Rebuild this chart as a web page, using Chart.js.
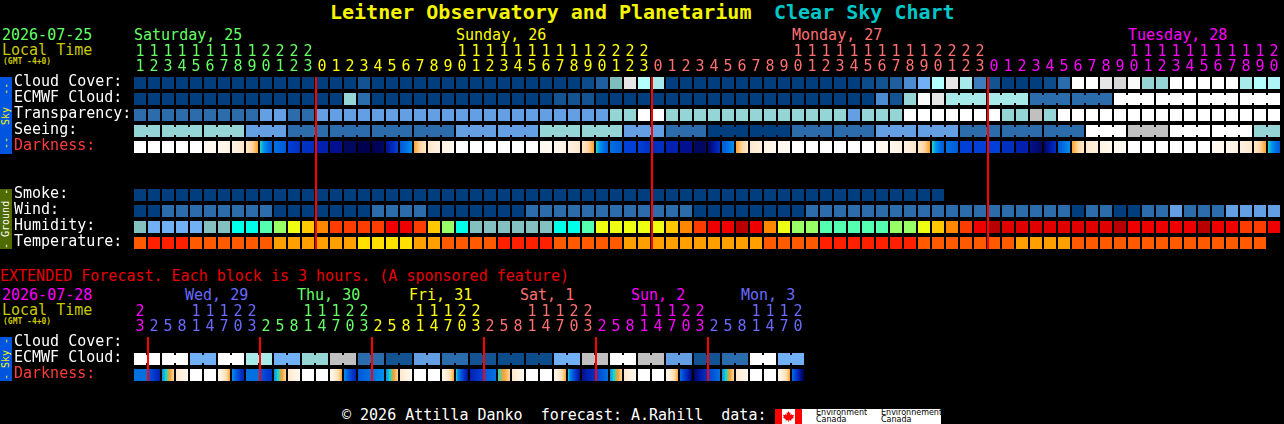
<!DOCTYPE html>
<html>
<head>
<meta charset="utf-8">
<title>Leitner Observatory and Planetarium Clear Sky Chart</title>
<script src="https://cdn.jsdelivr.net/npm/chart.js@4"></script>
<style>
html, body { margin: 0; background: #000; width: 1284px; height: 424px; overflow: hidden; }
canvas { position: absolute; left: 0; }
.t { position: absolute; font: 15px/15px 'DejaVu Sans Mono', monospace; white-space: pre; }
.title { font-weight: bold; font-size: 20px; line-height: 24px; top: 0; }
.gmt { font-size: 8px; line-height: 8px; font-weight: bold; color: #c8c800; left: 3px; }
.band { position: absolute; left: 0; width: 12px; writing-mode: vertical-rl; transform: rotate(180deg);
  font: 10px/12px 'DejaVu Sans Mono', monospace; text-align: center; white-space: pre; }
#logo { position: absolute; left: 775px; top: 409px; width: 166px; height: 15px; background: #fff; overflow: hidden; }
#logo .bar { position: absolute; top: 0; width: 7px; height: 15px; background: #f00; }
#logo svg { position: absolute; left: 8px; top: 2px; }
#logo span { position: absolute; font: 8px/8px 'DejaVu Sans', sans-serif; color: #000; white-space: nowrap; }
</style>
</head>
<body>
<div class="t title" style="left:330px;color:#f5f500">Leitner Observatory and Planetarium</div>
<div class="t title" style="left:774px;color:#00c8c8">Clear Sky Chart</div>

<div class="t" style="left:2px;top:28px;color:#66ff66">2026-07-25</div>
<div class="t" style="left:2px;top:43px;color:#c8c800">Local Time</div>
<div class="t gmt" style="top:58px">(GMT -4+0)</div>
<div class="t" style="left:134px;top:28px;color:#66ff66">Saturday, 25</div>
<div class="t" style="left:456px;top:28px;color:#ffff00">Sunday, 26</div>
<div class="t" style="left:792px;top:28px;color:#ff7070">Monday, 27</div>
<div class="t" style="left:1128px;top:28px;color:#ff00ff">Tuesday, 28</div>

<div class="band" style="top:77px;height:77px;background:#0055e0;color:#f5f500">--  Sky  --</div>
<div class="band" style="top:189px;height:60px;background:#4f6b00;color:#fff">- Ground -</div>
<div class="band" style="top:337px;height:44px;background:#0055e0;color:#f5f500">- Sky -</div>

<canvas id="mainChart" width="1284" height="256" style="top:0"></canvas>

<div class="t" style="left:0;top:269px;color:#e80000">EXTENDED Forecast. Each block is 3 hours. (A sponsored feature)</div>
<div class="t" style="left:2px;top:288px;color:#ff00ff">2026-07-28</div>
<div class="t" style="left:2px;top:303px;color:#c8c800">Local Time</div>
<div class="t gmt" style="top:318px">(GMT -4+0)</div>
<div class="t" style="left:185px;top:288px;color:#6a6aff">Wed, 29</div>
<div class="t" style="left:297px;top:288px;color:#66ff66">Thu, 30</div>
<div class="t" style="left:409px;top:288px;color:#ffff00">Fri, 31</div>
<div class="t" style="left:520px;top:288px;color:#ff7070">Sat, 1</div>
<div class="t" style="left:631px;top:288px;color:#ff00ff">Sun, 2</div>
<div class="t" style="left:741px;top:288px;color:#6a6aff">Mon, 3</div>

<canvas id="extChart" width="1284" height="130" style="top:256px"></canvas>

<div class="t" style="left:342px;top:408px;color:#fff">© 2026 Attilla Danko  forecast: A.Rahill  data:</div>
<div id="logo">
  <div class="bar" style="left:0"></div>
  <div class="bar" style="left:20px"></div>
  <svg width="11" height="11" viewBox="0 0 11 11"><path fill="#f00" d="M5.5 0 L6.6 2 L7.6 1.6 L7.2 4.2 L8.6 3 L9 4 L11 3.8 L10.2 6 L11 6.6 L8.2 8.6 L8.6 9.6 L5.8 9.2 L5.8 11 L5.2 11 L5.2 9.2 L2.4 9.6 L2.8 8.6 L0 6.6 L0.8 6 L0 3.8 L2 4 L2.4 3 L3.8 4.2 L3.4 1.6 L4.4 2 Z"/></svg>
  <span style="left:41px;top:0">Environment</span>
  <span style="left:41px;top:7px">Canada</span>
  <span style="left:106px;top:0">Environnement</span>
  <span style="left:106px;top:7px">Canada</span>
</div>

<script>
const hours = [11,12,13,14,15,16,17,18,19,20,21,22,23,
  0,1,2,3,4,5,6,7,8,9,10,11,12,13,14,15,16,17,18,19,20,21,22,23,
  0,1,2,3,4,5,6,7,8,9,10,11,12,13,14,15,16,17,18,19,20,21,22,23,
  0,1,2,3,4,5,6,7,8,9,10,11,12,13,14,15,16,17,18,19,20];
const hourDays = [0,0,0,0,0,0,0,0,0,0,0,0,0,
  1,1,1,1,1,1,1,1,1,1,1,1,1,1,1,1,1,1,1,1,1,1,1,1,
  2,2,2,2,2,2,2,2,2,2,2,2,2,2,2,2,2,2,2,2,2,2,2,2,
  3,3,3,3,3,3,3,3,3,3,3,3,3,3,3,3,3,3,3,3,3];
const midnights = [13, 37, 61];

const rowNames = ['Cloud Cover:', 'ECMWF Cloud:', 'Transparency:', 'Seeing:', 'Darkness:', '', ' ',
  'Smoke:', 'Wind:', 'Humidity:', 'Temperature:'];

// percent cloud
const cloudCover = [0,0,0,0,0,0,0,0,0,0,0,0,0,0,0,0,10,0,0,0,0,0,0,0,0,0,0,0,0,0,0,0,5,20,65,90,75,70,
  0,0,0,0,0,0,0,0,0,0,0,0,0,0,5,10,20,40,50,75,90,70,35,10,0,0,0,5,30,100,100,90,88,95,60,60,
  100,100,100,100,100,70,75,72];
const ecmwfCloud = [0,0,0,0,0,0,0,0,0,0,0,0,0,0,0,60,30,0,0,0,0,0,0,0,0,0,0,0,0,0,10,10,10,
  0,0,0,0,0,0,0,0,0,0,0,0,0,0,0,0,0,0,0,0,40,10,60,95,90,70,70,70,70,70,70,30,30,30,30,30,30,
  100,100,100,100,100,100,100,100,100,100,100,100];
// 0 best ... 4 poor, 5 too cloudy to forecast
const transparency = [1,1,1,1,1,1,1,1,1,2,2,1,1,2,2,2,2,2,2,2,2,2,2,2,2,2,2,2,2,2,2,2,2,2,3,3,4,4,
  3,3,3,3,3,3,3,3,3,3,3,3,3,2,3,3,3,4,4,4,4,4,4,4,3,3,5,3,
  4,4,4,4,4,4,4,4,4,4,4,4,4,4,4,4];
const seeing = [3,3,3,3,3,3,3,3,2,2,2,1,1,1,1,1,1,1,1,1,1,1,1,2,2,2,2,2,2,3,3,3,3,3,3,2,2,2,1,1,1,
  0,0,0,0,0,0,1,1,1,1,1,1,2,2,2,2,2,2,1,1,1,1,1,1,1,1,1,4,4,4,5,5,5,4,4,4,4,4,4,3,3];
// twilight level at the left and right of each block, 0 daylight ... 15 dark sky
const darknessFrom = [0,0,0,0,0,1,1,2,3,6,8,10,11,12,13,14,15,15,13,9,5,3,2,
  0,0,0,0,0,0,1,1,2,3,6,8,10,10,11,12,13,14,14,9,5,3,2,1,
  0,0,0,0,0,0,1,1,2,3,6,8,10,10,10,11,12,13,14,9,5,3,2,1,
  0,0,0,0,0,0,1,1,2,3,6];
const darknessTo = [0,0,0,0,0,1,2,3,5,9,9,11,11,12,13,14,15,14,10,7,3,2,1,
  0,0,0,0,0,0,1,2,3,5,9,9,10,11,11,12,13,14,11,7,3,2,1,1,
  0,0,0,0,0,0,1,2,3,5,9,9,10,10,10,11,12,14,11,7,3,2,1,1,
  0,0,0,0,0,0,1,2,3,5,9];
const smoke = [0,0,0,0,0,0,0,0,0,0,0,0,0,0,0,0,0,0,0,0,0,0,0,0,0,0,0,0,0,
  0,0,0,0,0,0,0,0,0,0,0,0,0,0,0,0,0,0,0,0,0,0,0,0,0,0,0,0,0];
// 0 calm, 1 light, 2 moderate
const wind = [0,0,1,1,1,1,1,1,1,1,0,0,0,0,0,0,0,1,1,1,1,0,0,0,0,0,0,0,1,1,1,1,1,1,1,1,1,1,1,1,
  0,0,0,0,0,0,0,0,1,1,1,1,1,1,1,1,1,1,1,1,1,1,1,1,1,1,1,0,1,1,0,0,1,1,2,1,1,1,2,2,2,2];
const humidity = [90,95,95,95,95,90,90,85,85,80,75,70,65,60,55,55,55,55,50,50,55,65,75,85,
  90,90,90,90,90,90,85,85,80,70,70,70,70,70,65,60,55,50,50,45,50,60,70,75,75,80,80,80,
  80,80,75,75,70,65,60,55,50,45,47,47,47,47,47,47,47,47,45,50,50,50,50,50,45,50,50,55,55,50];
const temperature = [24,27,27,27,24,24,24,24,24,24,21,21,21,21,21,21,19,19,19,19,21,21,24,24,24,24,
  27,27,27,27,24,24,24,24,24,21,21,21,21,21,21,21,21,21,21,24,24,24,24,27,27,27,27,27,27,27,
  24,24,24,24,24,24,24,21,21,21,21,24,24,24,24,24,24,24,24,24,24,24,24,24,24];

const extHours = [23,2,5,8,11,14,17,20,23,2,5,8,11,14,17,20,23,2,5,8,11,14,17,20,23,
  2,5,8,11,14,17,20,23,2,5,8,11,14,17,20,23,2,5,8,11,14,17,20];
const extDays = [0,1,1,1,1,1,1,1,1,2,2,2,2,2,2,2,2,3,3,3,3,3,3,3,3,
  4,4,4,4,4,4,4,4,5,5,5,5,5,5,5,5,6,6,6,6,6,6,6];
const extMidnights = [1, 9, 17, 25, 33, 41];
const extRowNames = ['Cloud Cover:', 'ECMWF Cloud:', 'Darkness:'];
const extEcmwf = [100,100,100,100,50,50,100,100,70,70,50,50,60,60,85,85,30,30,10,10,45,45,30,30,
  10,10,5,5,5,5,50,50,85,85,100,100,85,85,45,45,10,10,30,30,100,100,50,50];
const extDarkFrom = [8,9,7,3,0,0,1,7, 8,9,7,3,0,0,1,7, 9,8,7,3,0,0,1,6,
  12,9,6,3,0,0,1,6, 13,10,7,3,0,0,1,8, 14,10,7,3,0,0,1,8];
const extDarkTo = [8,12,4,1,0,0,5,12, 8,11,4,1,0,0,5,12, 8,7,4,1,0,0,5,13,
  10,8,4,1,0,0,5,13, 11,8,4,1,0,0,5,14, 11,8,4,1,0,0,5,15];

// colour keys, separate from the values
const cloudColors = { 0:'#003e7e', 5:'#0c4c8a', 10:'#135392', 20:'#1f5f9f', 30:'#2b6cad', 35:'#3d7dbd', 40:'#4a8ccf',
  45:'#639fe2', 50:'#72b0f5', 60:'#95d5d5', 65:'#7fbcbc', 70:'#a8eaea', 72:'#b0f5f5', 75:'#b4ffff',
  85:'#c0c0c0', 88:'#d8d8d8', 90:'#e6e6e6', 95:'#fafafa', 100:'#ffffff' };
const qualityColors = ['#003e7e', '#2c6cab', '#639fe2', '#95d5d5', '#ffffff', '#c0c0c0'];
const windColors = ['#003e7e', '#2c6cab', '#639fe2'];
const humidityColors = { 95:'#72b0f5', 90:'#85c0c0', 85:'#00ffe8', 80:'#55ffb0', 75:'#99ff66', 70:'#eeff11',
  65:'#ffc800', 60:'#ff8800', 55:'#ff3c00', 50:'#ee0000', 47:'#e00000', 45:'#b80000' };
const temperatureColors = { 19:'#ffe000', 21:'#ffa000', 24:'#ff5a00', 27:'#ff2000' };
const darkRamp = ['#ffffff','#fff9f0','#fff2e0','#ffe8cc','#ffd8a0','#ffa030','#20d8c0','#0090f0','#0070e0',
  '#0058d8','#0040d8','#0030c0','#0020b0','#001090','#000860','#000050'];
const dayColors = ['#66ff66', '#ffff00', '#ff7070', '#ff00ff'];
const extDayColors = ['#ff00ff', '#6a6aff', '#66ff66', '#ffff00', '#ff7070', '#ff00ff', '#6a6aff'];

const FONT = 'DejaVu Sans Mono';
const BLOCK_RADIUS = 6 * Math.SQRT2;

function blockRow(row, colors, join, joinWidth) {
  return {
    data: colors.map((c, i) => ({ x: i, y: row })),
    pointStyle: 'rect',
    pointRadius: BLOCK_RADIUS,
    pointBorderWidth: 0,
    pointBackgroundColor: colors,
    showLine: !!join,
    borderWidth: joinWidth || 8,
    borderColor: 'transparent',
    segment: join ? { borderColor: ctx => join(ctx.p0DataIndex) ? colors[ctx.p0DataIndex] : 'transparent' } : undefined
  };
}

function darknessRow(row, from, to, join) {
  const ds = blockRow(row, from.map(v => darkRamp[v]), null);
  ds.pointBackgroundColor = ctx => {
    // chart.js also resolves this once without a data index
    if (ctx.dataIndex === undefined) return darkRamp[0];
    const x = ctx.chart.scales.x.getPixelForValue(ctx.dataIndex);
    const a = from[ctx.dataIndex], b = to[ctx.dataIndex];
    if (a === b || !isFinite(x)) return darkRamp[a];
    const g = ctx.chart.ctx.createLinearGradient(x - 6, 0, x + 6, 0);
    const n = Math.abs(b - a);
    for (let k = 0; k <= n; k++) g.addColorStop(k / n, darkRamp[a + Math.sign(b - a) * k]);
    return g;
  };
  if (join) {
    ds.showLine = true;
    ds.borderWidth = 12;
    ds.segment = { borderColor: ctx => join(ctx.p0DataIndex) ? darkRamp[to[ctx.p0DataIndex]] : 'transparent' };
  }
  return ds;
}

const redLines = cols => ({
  id: 'redLines',
  afterDatasetsDraw(chart) {
    const { ctx, chartArea, scales } = chart;
    ctx.save();
    ctx.fillStyle = '#ff0000';
    cols.forEach(col => {
      const x = scales.x.getPixelForValue(col) - 6;
      ctx.fillRect(x - 1, chartArea.top + 2, 2, chartArea.bottom - chartArea.top - 4);
    });
    ctx.restore();
  }
});

function makeChart(id, hrs, tickColor, rows, datasets, cols, rightPad, bottomPad) {
  return new Chart(document.getElementById(id), {
    type: 'line',
    data: {
      labels: hrs.map(h => [h >= 10 ? String(h)[0] : '', String(h % 10)]),
      datasets: datasets
    },
    options: {
      responsive: false,
      animation: false,
      events: [],
      layout: { autoPadding: false, padding: { left: 14, right: rightPad, top: 0, bottom: bottomPad } },
      plugins: { legend: { display: false }, tooltip: { enabled: false } },
      scales: {
        x: {
          type: 'category',
          position: 'top',
          offset: true,
          grid: { display: false },
          border: { display: false },
          afterFit: s => {
            s.height = id === 'mainChart' ? 75 : 79;
            s.paddingLeft = 0;
            s.paddingRight = 0;
          },
          ticks: {
            autoSkip: false, maxRotation: 0, minRotation: 0, padding: -8,
            font: { family: FONT, size: 15, lineHeight: 1 },
            color: ctx => tickColor(ctx.index)
          }
        },
        y: {
          type: 'category',
          labels: rows,
          offset: true,
          grid: { display: false },
          border: { display: false },
          afterFit: s => {
            s.width = 119;
            s.paddingTop = 0;
            s.paddingBottom = 0;
          },
          ticks: {
            autoSkip: false, crossAlign: 'far', padding: 0, labelOffset: -1,
            font: { family: FONT, size: 15 },
            color: ctx => rows[ctx.index] === 'Darkness:' ? '#ff3c3c' : '#ffffff'
          }
        }
      }
    },
    plugins: [redLines(cols)]
  });
}

const seeingJoin = i => (i + 1) % 3 !== 2;
const ecmwfJoin = i => i >= 58 && (i - 58) % 3 !== 2;

makeChart('mainChart', hours, i => dayColors[hourDays[i]], rowNames, [
  blockRow('Cloud Cover:', cloudCover.map(v => cloudColors[v])),
  blockRow('ECMWF Cloud:', ecmwfCloud.map(v => cloudColors[v]), ecmwfJoin),
  blockRow('Transparency:', transparency.map(v => qualityColors[v])),
  blockRow('Seeing:', seeing.map(v => qualityColors[v]), seeingJoin),
  darknessRow('Darkness:', darknessFrom, darknessTo),
  blockRow('Smoke:', smoke.map(v => qualityColors[v])),
  blockRow('Wind:', wind.map(v => windColors[v])),
  blockRow('Humidity:', humidity.map(v => humidityColors[v])),
  blockRow('Temperature:', temperature.map(v => temperatureColors[v]))
], midnights, 3, 5);

makeChart('extChart', extHours, i => extDayColors[extDays[i]], extRowNames, [
  blockRow('ECMWF Cloud:', extEcmwf.map(v => cloudColors[v]), i => i % 2 === 0),
  darknessRow('Darkness:', extDarkFrom, extDarkTo, i => i % 8 === 0)
], extMidnights, 479, 3);
</script>
</body>
</html>
